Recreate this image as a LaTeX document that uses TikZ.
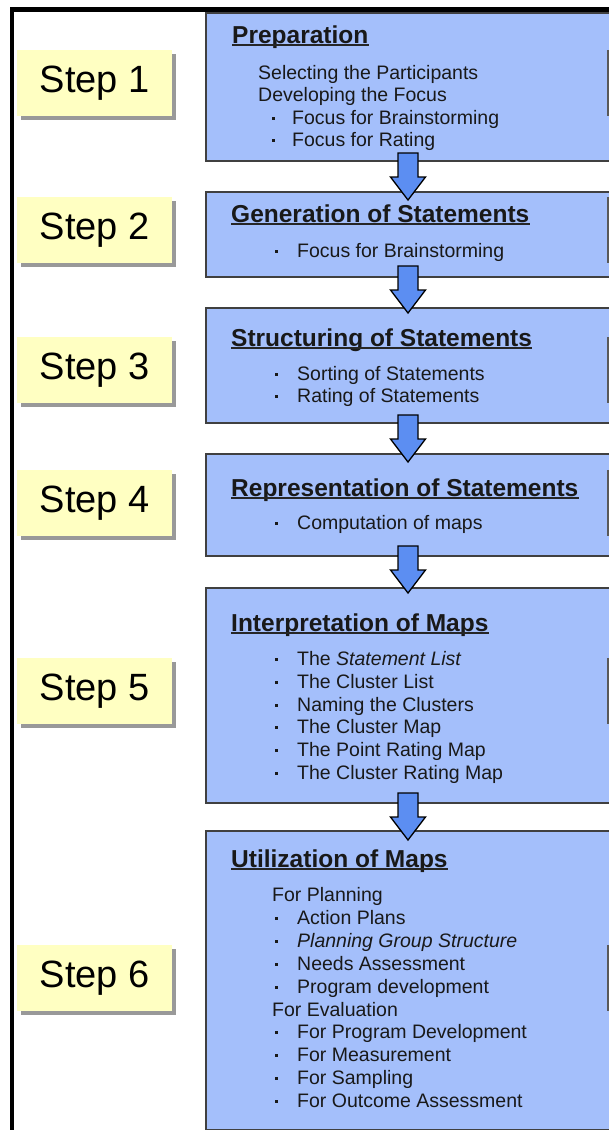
\documentclass[tikz,border=0pt]{standalone}
\usepackage{fontspec}
\setmainfont{Liberation Sans}
\usetikzlibrary{shadows}
\definecolor{boxblue}{RGB}{164,191,251}
\definecolor{arrowblue}{RGB}{92,142,242}
\definecolor{stepyellow}{RGB}{255,255,194}
\newcommand{\sqbul}{\raisebox{4.5pt}{\rule{3pt}{3pt}}}
\begin{document}
\begin{tikzpicture}[x=1pt,y=-1pt,
  mainbox/.style={draw=black!75, line width=1.6pt, fill=boxblue, rectangle, inner sep=0pt, anchor=north west, minimum width=420pt},
  stepbox/.style={fill=stepyellow, rectangle, inner sep=0pt, anchor=north west, minimum width=155pt, minimum height=66pt,
     font=\fontsize{38}{40}\selectfont, general shadow={shadow xshift=4pt, shadow yshift=-3.5pt, fill=black!40}},
  titletext/.style={inner sep=0pt, anchor=base west, font=\fontsize{24.5}{26}\selectfont\bfseries, text=black!90},
  bodytext/.style={inner sep=0pt, anchor=base west, font=\fontsize{19.5}{21}\selectfont, text=black!90},
  uline/.style={draw=black!85, line width=1.6pt},
  arrowfill/.style={draw=black, line width=1.3pt, fill=arrowblue, line join=miter},
  edgeline/.style={draw=black!65, line width=2pt},
  blockarrow/.pic={\path[arrowfill] (-10,0) -- (-10,24) -- (-17.5,24) -- (0,47) -- (17.5,24) -- (10,24) -- (10,0) -- cycle;}
]
\useasboundingbox (0,0) rectangle (609,1130);
\fill[white] (0,0) rectangle (609,1130);
\begin{scope}
\clip (0,0) rectangle (609,1130);
% frame
\fill[black] (10,7) rectangle (609,12);
\fill[black] (10,7) rectangle (14,1130);
% main boxes
\node[mainbox, minimum height=148pt] (b1) at (205,12) {};
\node[mainbox, minimum height=85pt] (b2) at (205,191) {};
\node[mainbox, minimum height=115pt] (b3) at (205,307) {};
\node[mainbox, minimum height=102pt] (b4) at (205,453) {};
\node[mainbox, minimum height=215pt] (b5) at (205,587) {};
\node[mainbox, minimum height=299pt] (b6) at (205,830) {};
% step boxes
\node[stepbox] (s1) at (17,50) {Step 1};
\node[stepbox] (s2) at (17,197) {Step 2};
\node[stepbox] (s3) at (17,337) {Step 3};
\node[stepbox] (s4) at (17,470) {Step 4};
\node[stepbox] (s5) at (17,658) {Step 5};
\node[stepbox] (s6) at (17,945) {Step 6};
% right edge marks
\coordinate (rx) at (607.5,0);
\foreach \s in {s1,s2,s3,s4,s5,s6}{
  \draw[edgeline] (\s.north west -| rx) -- (\s.south west -| rx);
}
% arrows
\coordinate (a1) at (408,153);
\coordinate (a2) at (408,266);
\coordinate (a3) at (408,415);
\coordinate (a4) at (408,546);
\coordinate (a5) at (408,793);
\foreach \a in {a1,a2,a3,a4,a5}{ \pic at (\a) {blockarrow}; }
% titles
\node[titletext] (t1) at (232,43) {Preparation};
\node[titletext] (t2) at (231,222) {Generation of Statements};
\node[titletext] (t3) at (231,346) {Structuring of Statements};
\node[titletext] (t4) at (231,496) {Representation of Statements};
\node[titletext] (t5) at (231,631) {Interpretation of Maps};
\node[titletext] (t6) at (231,867) {Utilization of Maps};
\foreach \t in {t1,t2,t3,t4,t5,t6}{
  \draw[uline] ([yshift=-2.2pt]\t.base west) -- ([yshift=-2.2pt]\t.base east);
}
% box 1
\node[bodytext] (l11) at (258,79) {Selecting the Participants};
\node[bodytext] (l12) at (258,101) {Developing the Focus};
\node[bodytext] (l13) at (272,124) {\makebox[20pt][l]{\sqbul}Focus for Brainstorming};
\node[bodytext] (l14) at (272,146) {\makebox[20pt][l]{\sqbul}Focus for Rating};
% box 2
\node[bodytext] (l21) at (275,257) {\makebox[22pt][l]{\sqbul}Focus for Brainstorming};
% box 3
\node[bodytext] (l31) at (275,380) {\makebox[22pt][l]{\sqbul}Sorting of Statements};
\node[bodytext] (l32) at (275,402) {\makebox[22pt][l]{\sqbul}Rating of Statements};
% box 4
\node[bodytext] (l41) at (275,529) {\makebox[22pt][l]{\sqbul}Computation of maps};
% box 5
\node[bodytext] (l51) at (275,665) {\makebox[22pt][l]{\sqbul}The \textit{Statement List}};
\node[bodytext] (l52) at (275,688) {\makebox[22pt][l]{\sqbul}The Cluster List};
\node[bodytext] (l53) at (275,711) {\makebox[22pt][l]{\sqbul}Naming the Clusters};
\node[bodytext] (l54) at (275,733) {\makebox[22pt][l]{\sqbul}The Cluster Map};
\node[bodytext] (l55) at (275,756) {\makebox[22pt][l]{\sqbul}The Point Rating Map};
\node[bodytext] (l56) at (275,779) {\makebox[22pt][l]{\sqbul}The Cluster Rating Map};
% box 6
\node[bodytext] (l61) at (272,901) {For Planning};
\node[bodytext] (l62) at (275,924) {\makebox[22pt][l]{\sqbul}Action Plans};
\node[bodytext] (l63) at (275,947) {\makebox[22pt][l]{\sqbul}\textit{Planning Group Structure}};
\node[bodytext] (l64) at (275,970) {\makebox[22pt][l]{\sqbul}Needs Assessment};
\node[bodytext] (l65) at (275,993) {\makebox[22pt][l]{\sqbul}Program development};
\node[bodytext] (l66) at (272,1016) {For Evaluation};
\node[bodytext] (l67) at (275,1038) {\makebox[22pt][l]{\sqbul}For Program Development};
\node[bodytext] (l68) at (275,1061) {\makebox[22pt][l]{\sqbul}For Measurement};
\node[bodytext] (l69) at (275,1084) {\makebox[22pt][l]{\sqbul}For Sampling};
\node[bodytext] (l60) at (275,1107) {\makebox[22pt][l]{\sqbul}For Outcome Assessment};
\end{scope}
\end{tikzpicture}
\end{document}
